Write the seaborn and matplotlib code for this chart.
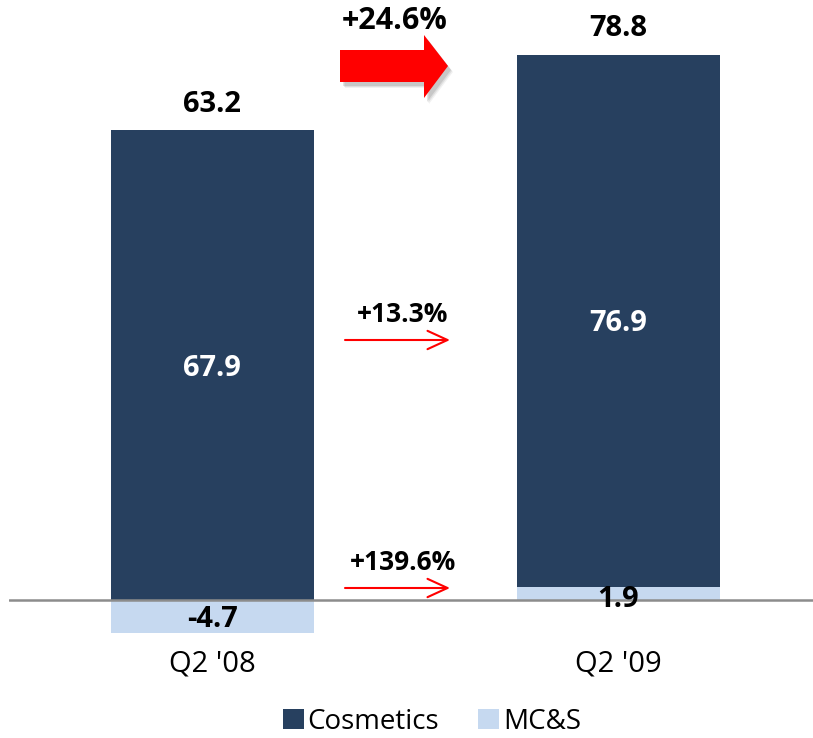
import matplotlib
matplotlib.use("Agg")
import matplotlib.pyplot as plt
import seaborn as sns
import pandas as pd
import numpy as np
from matplotlib.patches import Polygon, Patch
from matplotlib.transforms import Affine2D

# ---- data ----
quarters = ["Q2 '08", "Q2 '09"]
cosmetics = [67.9, 76.9]
mcs = [-4.7, 1.9]
totals = [63.2, 78.8]
growth_total = "+24.6%"
growth_cosmetics = "+13.3%"
growth_mcs = "+139.6%"
series_names = ["Cosmetics", "MC&S"]

DARK = "#27405F"
LIGHT = "#C6D9F0"
FONT = ["Open Sans", "DejaVu Sans"]

sns.set_theme(style="white")
plt.rcParams["font.family"] = FONT
plt.rcParams["text.color"] = "black"

W, H = 813, 738
fig = plt.figure(figsize=(W / 100, H / 100), dpi=100)
ax = fig.add_axes([9 / W, (H - 640) / H, 1 - 9 / W, 640 / H])

# stacked tops: cosmetics sits on positive MC&S
cos_top = [c + max(m, 0) for c, m in zip(cosmetics, mcs)]
df_top = pd.DataFrame({"q": quarters, "v": cos_top})
df_mcs = pd.DataFrame({"q": quarters, "v": mcs})

sns.barplot(data=df_top, x="q", y="v", color=DARK, width=0.5, linewidth=0,
            saturation=1, ax=ax)
sns.barplot(data=df_mcs, x="q", y="v", color=LIGHT, width=0.5, linewidth=0,
            saturation=1, ax=ax)

ax.set_xlim(-0.5, 1.48)
ax.set_ylim(-5.78, 86.7)
ax.axhline(0, color="#8C8C8C", lw=1.8, zorder=3)
for s in ax.spines.values():
    s.set_visible(False)
ax.set_yticks([])
ax.set_xlabel("")
ax.set_ylabel("")
ax.tick_params(axis="x", length=0, pad=7, labelsize=21, labelcolor="black")
for t in ax.get_xticklabels():
    t.set_fontfamily(FONT)

# value labels
for i in range(len(quarters)):
    base = max(mcs[i], 0)
    ax.annotate(f"{cosmetics[i]:.1f}", (i, base + cosmetics[i] / 2), xytext=(0, -3),
                textcoords="offset pixels", ha="center", va="center",
                color="white", fontsize=21, fontweight="bold")
    ax.annotate(f"{totals[i]:.1f}", (i, cos_top[i]), xytext=(0, 26),
                textcoords="offset pixels", ha="center", va="center",
                fontsize=21, fontweight="bold", color="black")
    off = -3 if mcs[i] < 0 else -6
    ax.annotate(f"{mcs[i]:.1f}", (i, mcs[i] / 2), xytext=(0, off),
                textcoords="offset pixels", ha="center", va="center",
                fontsize=21, fontweight="bold", color="black", zorder=5)

# pixel transform (image coords, y downward)
pix = Affine2D().scale(1, -1).translate(0, H)

# big block arrow with shadow
arrow_pts = [(340, 50), (424, 50), (424, 35), (448, 66), (424, 98), (424, 82), (340, 82)]
for k, a in [(6, 0.08), (5, 0.12), (4, 0.16)]:
    shadow = [(x + k - 1, y + k) for x, y in arrow_pts]
    fig.patches.append(Polygon(shadow, closed=True, transform=pix, facecolor="#555555",
                               alpha=a, edgecolor="none", zorder=1))
fig.patches.append(Polygon(arrow_pts, closed=True, transform=pix, facecolor="#FF0000",
                           edgecolor="none", zorder=2))
fig.text(395, 21, growth_total, transform=pix, ha="center", va="center",
         fontsize=22, fontweight="bold", color="black")

# thin arrows
for (y_arr, y_txt, label) in [(340, 314, growth_cosmetics), (588, 563, growth_mcs)]:
    ax.annotate("", xy=(450, y_arr), xytext=(345, y_arr), xycoords=pix, textcoords=pix,
                arrowprops=dict(arrowstyle="->,head_length=1.2,head_width=0.55",
                                color="#FF0000", lw=1.5, shrinkA=0, shrinkB=0))
    fig.text(403, y_txt, label, transform=pix, ha="center", va="center",
             fontsize=19, fontweight="bold", color="black")

handles = [Patch(facecolor=DARK, edgecolor="none"), Patch(facecolor=LIGHT, edgecolor="none")]
leg = fig.legend(handles, series_names, loc="center", bbox_to_anchor=(432 / W, 1 - 722 / H),
                 ncol=2, frameon=False, fontsize=20, handlelength=0.75, handleheight=0.75,
                 handletextpad=0.15, columnspacing=1.4)
for t in leg.get_texts():
    t.set_color("black")

fig.savefig("out.png", dpi=100)
